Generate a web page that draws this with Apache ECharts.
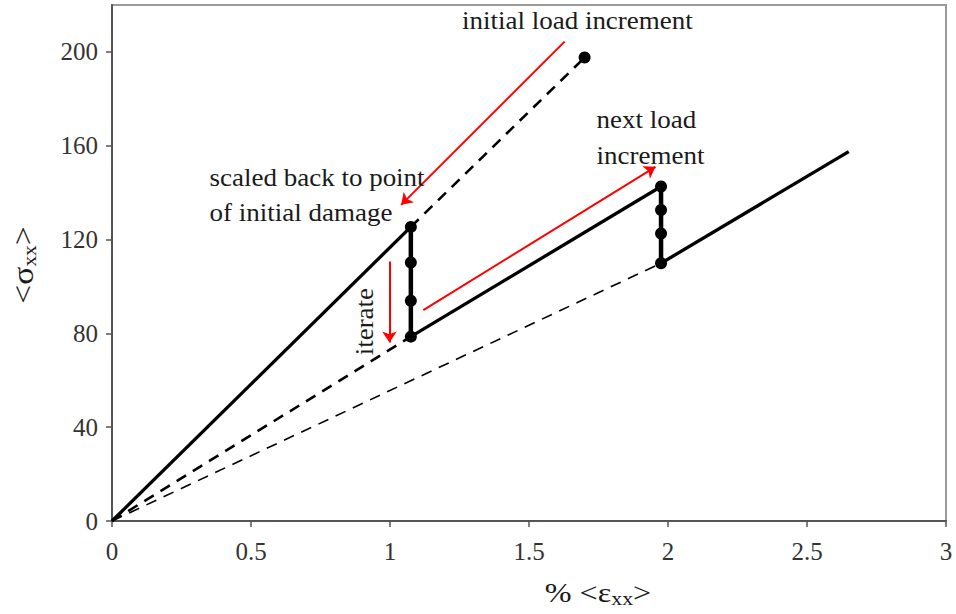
<!DOCTYPE html>
<html>
<head>
<meta charset="utf-8">
<script src="https://cdn.jsdelivr.net/npm/echarts@6/dist/echarts.min.js"></script>
<style>html,body{margin:0;padding:0;background:#fff}#c{width:956px;height:614px}</style>
</head>
<body>
<div id="c"></div>
<script>
// ---- data ----
const xTicks = [0, 0.5, 1, 1.5, 2, 2.5, 3];
const yTicks = [0, 40, 80, 120, 160, 200];
const initialLoading = [[0, 0], [1.075, 125.4]];
const firstIteration = [[1.075, 125.4], [1.075, 110.2], [1.075, 93.9], [1.075, 78.6]];
const reloading = [[1.075, 78.6], [1.975, 142.6]];
const secondIteration = [[1.975, 142.6], [1.975, 132.6], [1.975, 122.6], [1.975, 109.9]];
const finalLoading = [[1.975, 109.9], [2.65, 157.5]];
const initialIncrement = [[1.075, 125.4], [1.70, 197.6]];
const damagedStiffness1 = [[0, 0], [1.075, 78.6]];
const damagedStiffness2 = [[0, 0], [1.975, 109.9]];
const arrows = [
  [[1.628, 204.4], [1.040, 134.8]],
  [[1.12, 89.9], [1.955, 151.0]],
  [[0.998, 110.6], [0.998, 76.1]]
];
// [x, y, text, align, rotated]
const notes = [
  [0.351, 146.1, 'scaled back to point', 'left', false],
  [0.351, 131.6, 'of initial damage', 'left', false],
  [1.743, 170.9, 'next load', 'left', false],
  [1.743, 155.5, 'increment', 'left', false],
  [1.674, 213.1, 'initial load increment', 'center', false],
  [0.909, 85.0, 'iterate', 'center', true]
];

const FONT = 'Liberation Serif';
const INK = '#1a1a1a';
const chart = echarts.init(document.getElementById('c'), null, {renderer: 'svg'});

function solid(data, w) {
  return {type: 'line', data: data, symbol: 'none', lineStyle: {color: '#000', width: w}, z: 3, silent: true};
}
function dashed(data, w) {
  return {type: 'line', data: data, symbol: 'none', lineStyle: {color: '#000', width: w, type: [11, 8]}, z: 2, silent: true};
}
function dotted(data) {
  return {type: 'line', data: data, symbol: 'circle', symbolSize: 12, showAllSymbol: true,
    itemStyle: {color: '#000', opacity: 1}, lineStyle: {color: '#000', width: 4.5}, z: 4, silent: true};
}

chart.setOption({
  animation: false,
  grid: {left: 112, top: 5, right: 10, bottom: 93, show: true, borderColor: '#9a9a9a', borderWidth: 2},
  xAxis: {
    type: 'value', min: 0, max: 3, interval: 0.5,
    axisLine: {show: true, onZero: false, lineStyle: {color: '#555', width: 2}},
    axisTick: {show: true, inside: false, length: 6, lineStyle: {color: '#555', width: 1.5}},
    axisLabel: {fontFamily: FONT, fontSize: 25, color: '#333', margin: 18, customValues: xTicks},
    splitLine: {show: false}
  },
  yAxis: {
    type: 'value', min: 0, max: 220, interval: 40,
    axisLine: {show: true, onZero: false, lineStyle: {color: '#555', width: 2}},
    axisTick: {show: true, inside: false, length: 6, lineStyle: {color: '#555', width: 1.5}, customValues: yTicks},
    axisLabel: {fontFamily: FONT, fontSize: 25, color: '#333', margin: 14, customValues: yTicks},
    splitLine: {show: false}
  },
  series: [
    dashed(damagedStiffness2, 1.6),
    dashed(damagedStiffness1, 2.6),
    dashed(initialIncrement, 2.6),
    solid(initialLoading, 3.3),
    solid(reloading, 3.3),
    solid(finalLoading, 3.3),
    dotted(firstIteration),
    dotted(secondIteration),
    {type: 'scatter', data: [initialIncrement[1]], symbol: 'circle', symbolSize: 12,
      itemStyle: {color: '#000', opacity: 1}, z: 5, silent: true},
    {
      type: 'lines', coordinateSystem: 'cartesian2d', silent: true, z: 6,
      symbol: ['none', 'arrow'], symbolSize: 11,
      lineStyle: {color: '#ff0000', width: 2, opacity: 1},
      data: arrows.map(a => ({coords: a}))
    }
  ]
});

// annotations and axis titles as text, anchored through the chart's own scales
const graphics = notes.map(n => {
  const p = chart.convertToPixel({gridIndex: 0}, [n[0], n[1]]);
  return {
    type: 'text', x: p[0], y: p[1], rotation: n[4] ? Math.PI / 2 : 0, scaleX: 1.08,
    style: {text: n[2], align: n[3], verticalAlign: 'middle', fontFamily: FONT, fontSize: 25, fill: INK},
    z: 10
  };
});
graphics.push({
  type: 'text', x: 23, y: 265, rotation: Math.PI / 2, scaleX: 1.12,
  style: {
    text: '<σ{s|xx}>', align: 'center', verticalAlign: 'middle',
    fontFamily: FONT, fontSize: 30, fill: INK,
    rich: {s: {fontFamily: FONT, fontSize: 19, fill: INK, padding: [12, 0, 0, 0]}}
  }
});
graphics.push({
  type: 'text', x: 598, y: 593, scaleX: 1.15,
  style: {
    text: '% <ε{s|xx}>', align: 'center', verticalAlign: 'middle',
    fontFamily: FONT, fontSize: 28, fill: INK,
    rich: {
      s: {fontFamily: FONT, fontSize: 19, fill: INK, padding: [12, 0, 0, 0]}
    }
  }
});
chart.setOption({graphic: graphics});
</script>
</body>
</html>
